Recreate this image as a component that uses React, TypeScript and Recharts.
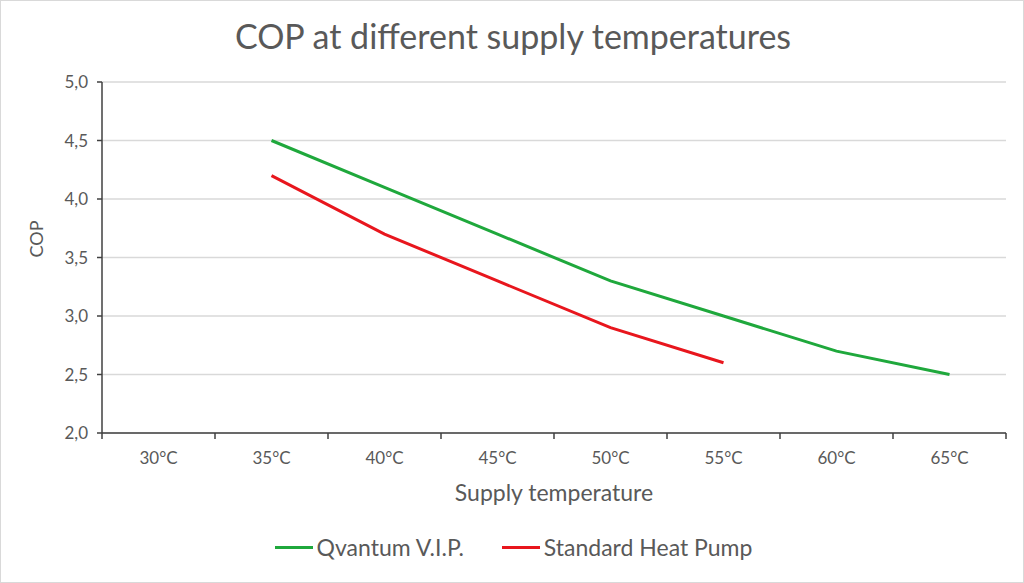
import React from "react";
import {
  LineChart, Line, XAxis, YAxis, CartesianGrid, Legend,
} from "recharts";

const temperatures = ["30°C", "35°C", "40°C", "45°C", "50°C", "55°C", "60°C", "65°C"];
const qvantumCop = [null, 4.5, 4.1, 3.7, 3.3, 3.0, 2.7, 2.5];
const standardCop = [null, 4.2, 3.7, 3.3, 2.9, 2.6, null, null];
const copTicks = [2, 2.5, 3, 3.5, 4, 4.5, 5];

const data = temperatures.map((t, i) => ({
  temp: t,
  qvantum: qvantumCop[i],
  standard: standardCop[i],
}));

const FONT = "Lato, 'Open Sans', sans-serif";
const TEXT = "#595959";
const AXIS = "#404040";

const fmt = (v: number) => v.toFixed(1).replace(".", ",");

function XTick(props: any) {
  const { x, y, payload, index } = props;
  const off = payload.offset ?? 56.4;
  const last = index === temperatures.length - 1;
  return (
    <g>
      <line x1={x - off} x2={x - off} y1={y - 8} y2={y - 2} stroke={AXIS} strokeWidth={1.5} />
      {last && (
        <line x1={x + off} x2={x + off} y1={y - 8} y2={y - 2} stroke={AXIS} strokeWidth={1.5} />
      )}
      <text x={x} y={y + 23} textAnchor="middle" fill={TEXT} fontSize={17} fontFamily={FONT}>
        {payload.value}
      </text>
    </g>
  );
}

function LegendContent(props: any) {
  const { payload } = props;
  return (
    <div style={{ display: "flex", justifyContent: "center", gap: 38, fontFamily: FONT, fontSize: 23, color: TEXT }}>
      {payload.map((p: any) => (
        <div key={p.value} style={{ display: "flex", alignItems: "center" }}>
          <span style={{ display: "inline-block", width: 38, height: 3, background: p.color, marginRight: 4 }} />
          <span>{p.value}</span>
        </div>
      ))}
    </div>
  );
}

export default function App() {
  return (
    <div
      style={{
        position: "absolute", left: 0, top: 0, width: 1024, height: 583,
        background: "#fff", boxSizing: "border-box", border: "1px solid #d9d9d9",
      }}
    >
      <div
        style={{
          position: "absolute", top: 14, left: 0, width: 1024, textAlign: "center",
          fontFamily: FONT, fontSize: 34, color: TEXT,
        }}
      >
        COP at different supply temperatures
      </div>
      <LineChart
        width={1022}
        height={581}
        data={data}
        margin={{ top: 81, right: 17, left: 20, bottom: 29 }}
      >
        <CartesianGrid vertical={false} stroke="#d9d9d9" strokeWidth={1.5} />
        <XAxis
          dataKey="temp"
          scale="band"
          height={80}
          stroke={AXIS}
          strokeWidth={1.5}
          tickLine={false}
          tick={<XTick />}
          interval={0}
          label={{ value: "Supply temperature", position: "insideTop", offset: 52, fill: TEXT, fontSize: 23, fontFamily: FONT }}
        />
        <YAxis
          domain={[2, 5]}
          ticks={copTicks}
          width={81}
          stroke={AXIS}
          strokeWidth={1.5}
          tickSize={5}
          tickMargin={9}
          tickFormatter={fmt}
          tick={{ fill: TEXT, fontSize: 17, fontFamily: FONT }}
          label={{ value: "COP", angle: -90, position: "insideLeft", offset: 16, fill: TEXT, fontSize: 18, fontFamily: FONT }}
        />
        <Legend verticalAlign="bottom" height={40} content={<LegendContent />} wrapperStyle={{ top: 532 }} />
        <Line
          type="linear" dataKey="qvantum" name="Qvantum V.I.P." stroke="#1fa83c" strokeWidth={3}
          dot={false} activeDot={false} isAnimationActive={false}
        />
        <Line
          type="linear" dataKey="standard" name="Standard Heat Pump" stroke="#e8161d" strokeWidth={3}
          dot={false} activeDot={false} isAnimationActive={false}
        />
      </LineChart>
    </div>
  );
}
